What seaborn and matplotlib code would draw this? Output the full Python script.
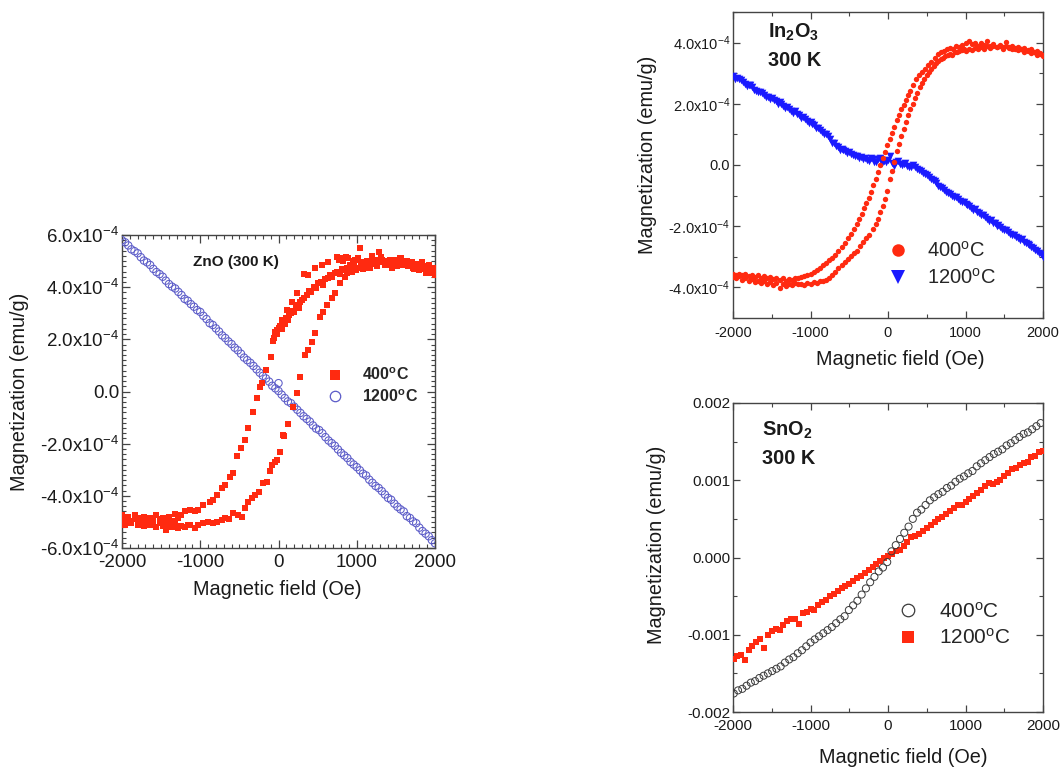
import numpy as np
import pandas as pd
import matplotlib
matplotlib.use("Agg")
import matplotlib.pyplot as plt
from matplotlib.ticker import MultipleLocator, FixedLocator, FixedFormatter
from matplotlib.lines import Line2D
import seaborn as sns

# ---------------- ZnO, 300 K  (magnetization in units of 1e-4 emu/g) ----------------
zno400_down_h = [2000, 1970, 1940, 1910, 1880, 1850, 1820, 1790, 1760, 1730,
                 1700, 1670, 1640, 1610, 1580, 1550, 1520, 1490, 1460, 1430,
                 1400, 1370, 1340, 1310, 1280, 1250, 1220, 1190, 1160, 1130,
                 1100, 1070, 1040, 1010, 980, 950, 920, 890, 860, 830,
                 800, 770, 744, 637, 552, 466, 381, 326, 233, 169,
                 105, 41, -23, -68, -102, -154, -209, -236, -279, -322,
                 -386, -428, -479, -535, -577, -620, -684, -726, -790, -833,
                 -875, -961, -1025, -1067, -1131, -1195,
                 -1240, -1280, -1320, -1360, -1400, -1440, -1480, -1520, -1560, -1600,
                 -1640, -1680, -1720, -1760, -1800, -1840, -1880, -1920, -1960, -2000]
zno400_down_m = [4.45, 4.7, 4.6, 4.8, 4.55, 4.75, 4.9, 4.65, 4.85, 4.7,
                 4.95, 4.8, 5.0, 4.85, 4.95, 5.1, 4.8, 5.0, 4.9, 5.05,
                 4.85, 5.0, 4.95, 5.15, 5.35, 5.05, 4.95, 5.2, 4.85, 5.0,
                 4.75, 4.95, 5.5, 5.1, 5.05, 5.0, 4.85, 5.1, 5.15, 5.0,
                 5.1, 5.05, 5.17, 4.97, 4.85, 4.72, 4.46, 4.49, 3.76, 3.44,
                 3.12, 2.74, 2.36, 1.92, 1.32, 0.83, 0.32, 0.18, -0.26, -0.77,
                 -1.41, -1.86, -2.18, -2.47, -3.13, -3.26, -3.58, -3.71, -3.97, -4.16,
                 -4.22, -4.35, -4.54, -4.6, -4.54, -4.6,
                 -4.75, -4.85, -4.7, -4.95, -4.8, -5.0, -4.85, -4.9, -4.75, -5.0,
                 -4.85, -4.9, -4.8, -5.0, -4.85, -4.75, -4.95, -4.8, -4.9, -4.75]

zno400_mid_h = [-60, -40, -20, 0, 20, 40, 60, 80, 100, 120,
                140, 160, 180, 200, 220, 240, 260, 280, 300, 330,
                360, 390, 420, 450, 480, 510, 540, 570, 600, 630,
                660, 690, 720, 750, 780, 810, 840, 870]
zno400_mid_m = [2.05, 2.3, 2.2, 2.45, 2.5, 2.4, 2.65, 2.6, 2.8, 2.75,
                2.95, 3.0, 3.1, 3.05, 3.25, 3.3, 3.2, 3.45, 3.5, 3.6,
                3.7, 3.85, 3.8, 4.0, 3.95, 4.15, 4.2, 4.1, 4.3, 4.35,
                4.45, 4.4, 4.55, 4.6, 4.5, 4.7, 4.65, 4.75]

zno400_up_h = [-2000, -1960, -1920, -1880, -1840, -1800, -1760, -1720, -1680, -1640,
               -1600, -1560, -1520, -1480, -1440, -1400, -1360, -1320, -1280, -1240,
               -1200, -1160,
               -1131, -1067, -1025, -961, -897, -840, -790, -726, -684, -630,
               -577, -520, -470, -428, -386, -340, -300, -249, -194, -151,
               -110, -87, -50, -23, 19, 62, 74, 126, 180, 233,
               275, 339, 381, 424, 466, 530, 573, 616, 680, 722,
               786, 850,
               880, 905, 935, 965, 995, 1025, 1055, 1085, 1115, 1145,
               1175, 1205, 1235, 1265, 1295, 1325, 1355, 1385, 1415, 1445,
               1475, 1505, 1535, 1565, 1595, 1625, 1655, 1685, 1715, 1745,
               1775, 1805, 1835, 1865, 1895, 1925, 1955, 1985]
zno400_up_m = [-5.0, -5.1, -4.95, -5.05, -4.9, -5.1, -4.95, -5.15, -5.0, -5.1,
               -4.95, -5.2, -5.05, -5.15, -5.3, -5.1, -5.2, -5.05, -5.25, -5.15,
               -5.2, -5.1,
               -5.12, -5.24, -5.12, -5.05, -4.99, -5.05, -4.99, -4.92, -4.86, -4.9,
               -4.67, -4.75, -4.8, -4.48, -4.22, -4.1, -3.97, -3.84, -3.52, -3.46,
               -3.05, -2.82, -2.7, -2.62, -2.31, -1.67, -1.69, -1.26, -0.6, -0.07,
               0.57, 1.4, 1.59, 1.91, 2.23, 2.87, 3.06, 3.31, 3.57, 3.76,
               4.15, 4.40,
               4.55, 4.7, 4.6, 4.8, 4.65, 4.75, 4.9, 4.7, 4.85, 4.95,
               4.75, 4.9, 5.0, 4.8, 4.95, 5.05, 4.85, 5.0, 4.9, 4.75,
               5.05, 4.95, 4.85, 5.1, 4.9, 5.0, 4.8, 4.95, 4.75, 4.9,
               4.85, 4.7, 4.95, 4.8, 4.65, 4.85, 4.55, 4.75]

zno1200_down_h = [2000, 1920, 1840, 1760, 1680, 1600, 1520, 1440, 1360, 1280,
                  1200, 1120, 1040, 960, 880, 800, 720, 640, 560, 480,
                  400, 320, 240, 160, 80, 0, -80, -160, -240, -320,
                  -400, -480, -560, -640, -720, -800, -880, -960, -1040, -1120,
                  -1200, -1280, -1360, -1440, -1520, -1600, -1680, -1760, -1840, -1920,
                  -2000]
zno1200_down_m = [-5.82, -5.55, -5.35, -5.05, -4.85, -4.6, -4.42, -4.15, -3.95, -3.7,
                  -3.5, -3.22, -3.02, -2.8, -2.55, -2.35, -2.08, -1.88, -1.6, -1.42,
                  -1.15, -0.95, -0.7, -0.45, -0.25, 0.02, 0.22, 0.5, 0.72, 0.98,
                  1.2, 1.45, 1.68, 1.92, 2.15, 2.42, 2.62, 2.9, 3.12, 3.35,
                  3.55, 3.82, 4.02, 4.25, 4.5, 4.7, 4.95, 5.15, 5.38, 5.6,
                  5.8]
zno1200_up_h = [-1960, -1880, -1800, -1720, -1640, -1560, -1480, -1400, -1320, -1240,
                -1160, -1080, -1000, -920, -840, -760, -680, -600, -520, -440,
                -360, -280, -200, -120, -40, 0, 40, 120, 200, 280, 360,
                440, 520, 600, 680, 760, 840, 920, 1000, 1080, 1160,
                1240, 1320, 1400, 1480, 1560, 1640, 1720, 1800, 1880, 1960]
zno1200_up_m = [5.72, 5.45, 5.3, 5.02, 4.85, 4.58, 4.4, 4.12, 3.95, 3.7,
                3.48, 3.25, 3.05, 2.78, 2.55, 2.3, 2.05, 1.82, 1.58, 1.3,
                1.1, 0.85, 0.6, 0.38, 0.12, 0.32, -0.12, -0.38, -0.58, -0.82, -1.05,
                -1.3, -1.48, -1.75, -1.98, -2.22, -2.45, -2.7, -2.9, -3.15, -3.38,
                -3.62, -3.82, -4.08, -4.3, -4.52, -4.78, -4.98, -5.22, -5.45, -5.7]

# ---------------- In2O3, 300 K  (units of 1e-4 emu/g) ----------------
in400_down_h = [2000, 1960, 1920, 1880, 1840, 1800, 1760, 1720, 1680, 1640,
                1600, 1560, 1520, 1480, 1440, 1400, 1360, 1320, 1280, 1240,
                1200, 1160, 1120, 1080, 1040, 1000,
                960, 920, 880, 840, 800, 760, 720, 680, 640, 600,
                560, 520, 480, 440, 400, 360, 320,
                290, 260, 230, 200, 170, 140, 110, 80, 50, 20,
                -10, -40, -70, -100, -130, -160, -190, -220, -250, -280,
                -310, -340, -370, -400,
                -440, -480, -520, -560, -600, -640, -680, -720, -760, -800,
                -840, -880, -920, -960, -1000, -1040, -1080, -1120, -1160, -1200,
                -1240, -1280, -1320, -1360, -1400, -1440, -1480, -1520, -1560, -1600,
                -1640, -1680, -1720, -1760, -1800, -1840, -1880, -1920, -1960, -2000]
in400_down_m = [3.55, 3.62, 3.58, 3.68, 3.65, 3.72, 3.7, 3.78, 3.75, 3.82,
                3.78, 3.85, 4.02, 3.8, 3.9, 3.85, 3.95, 3.88, 4.05, 3.92,
                3.98, 3.9, 4.0, 3.95, 4.05, 3.98,
                3.92, 3.85, 3.88, 3.8, 3.82, 3.78, 3.72, 3.7, 3.62, 3.5,
                3.38, 3.28, 3.15, 3.05, 2.95, 2.82, 2.6,
                2.42, 2.3, 2.12, 1.95, 1.82, 1.65, 1.48, 1.25, 1.05, 0.85,
                0.65, 0.42, 0.22, 0.0, -0.22, -0.45, -0.65, -0.88, -1.08, -1.25,
                -1.42, -1.6, -1.78, -1.92,
                -2.08, -2.25, -2.4, -2.55, -2.68, -2.8, -2.95, -3.05, -3.12, -3.2,
                -3.28, -3.38, -3.42, -3.5, -3.55, -3.58, -3.62, -3.65, -3.7, -3.68,
                -3.75, -3.72, -3.78, -3.7, -3.75, -3.68, -3.72, -3.65, -3.7, -3.62,
                -3.68, -3.6, -3.65, -3.58, -3.62, -3.55, -3.6, -3.55, -3.58, -3.55]

in400_up_h = [-2000, -1960, -1920, -1880, -1840, -1800, -1760, -1720, -1680, -1640,
              -1600, -1560, -1520, -1480, -1440, -1400, -1360, -1320, -1280, -1240,
              -1200, -1160, -1120, -1080, -1040, -1000, -960, -920, -880, -840,
              -800, -760,
              -720, -680, -640, -600, -560, -520, -480, -440, -400, -360,
              -320, -280, -240, -200, -160,
              -130, -100, -70, -40, -10, 20, 50, 80, 110, 140,
              170, 200, 230, 260, 290, 320, 350, 380, 410, 440,
              470, 500, 530, 560, 590, 620, 650, 680, 710, 740,
              770, 800, 830, 860, 890, 920, 950, 980,
              1010, 1040, 1080, 1120, 1160, 1200, 1240, 1280, 1320, 1360,
              1400, 1440, 1480, 1520, 1560, 1600, 1640, 1680, 1720, 1760,
              1800, 1840, 1880, 1920, 1960, 2000]
in400_up_m = [-3.65, -3.7, -3.62, -3.75, -3.7, -3.8, -3.72, -3.82, -3.78, -3.85,
              -3.8, -3.88, -3.82, -3.92, -3.85, -4.02, -3.9, -3.95, -3.88, -3.92,
              -3.85, -3.9, -3.88, -3.93, -3.85, -3.88, -3.82, -3.86, -3.8, -3.78,
              -3.75, -3.7,
              -3.6, -3.5, -3.38, -3.28, -3.18, -3.08, -2.98, -2.88, -2.8, -2.65,
              -2.52, -2.4, -2.28, -2.1, -1.92,
              -1.78, -1.55, -1.35, -1.1, -0.85, -0.45, -0.2, 0.1, 0.45, 0.7,
              0.95, 1.18, 1.4, 1.62, 1.82, 1.98, 2.18, 2.35, 2.55, 2.68,
              2.82, 2.95, 3.05, 3.15, 3.25, 3.32, 3.4, 3.45, 3.5, 3.55,
              3.58, 3.62, 3.6, 3.68, 3.7, 3.72, 3.75, 3.78,
              3.72, 3.8, 3.75, 3.82, 3.78, 3.85, 3.8, 3.88, 3.82, 3.9,
              3.85, 3.92, 3.86, 3.9, 3.82, 3.88, 3.8, 3.85, 3.78, 3.82,
              3.75, 3.78, 3.7, 3.72, 3.65, 3.6]

in1200_a_h = [-2000, -1950, -1900, -1850, -1800, -1750, -1700, -1650, -1600, -1550,
              -1500, -1450, -1400, -1350, -1300, -1250, -1200, -1150, -1100, -1050,
              -1000, -950, -900, -850, -800, -750, -700, -650, -600, -550,
              -500, -450, -400, -350, -300, -250, -200, -150, -100, -50,
              0, 50, 100, 150, 200, 250, 300, 350, 400, 450,
              500, 550, 600, 650, 700, 750, 800, 850, 900, 950,
              1000, 1050, 1100, 1150, 1200, 1250, 1300, 1350, 1400, 1450,
              1500, 1550, 1600, 1650, 1700, 1750, 1800, 1850, 1900, 1950,
              2000]
in1200_a_m = [2.92, 2.85, 2.78, 2.66, 2.62, 2.55, 2.42, 2.4, 2.3, 2.22,
              2.18, 2.08, 2.05, 1.92, 1.88, 1.78, 1.75, 1.62, 1.58, 1.45,
              1.42, 1.3, 1.22, 1.08, 1.0, 0.85, 0.72, 0.58, 0.52, 0.45,
              0.42, 0.32, 0.3, 0.25, 0.22, 0.12, 0.18, 0.1, 0.22, 0.12,
              0.15, 0.05, 0.1, 0.02, 0.04, -0.02, -0.05, -0.08, -0.15, -0.25,
              -0.32, -0.45, -0.52, -0.68, -0.75, -0.88, -0.95, -1.05, -1.1, -1.22,
              -1.28, -1.35, -1.48, -1.52, -1.65, -1.7, -1.82, -1.88, -1.98, -2.02,
              -2.12, -2.2, -2.28, -2.35, -2.45, -2.5, -2.58, -2.68, -2.78, -2.88,
              -3.02]
in1200_b_h = [-1975, -1925, -1875, -1825, -1775, -1725, -1675, -1625, -1575, -1525,
              -1475, -1425, -1375, -1325, -1275, -1225, -1175, -1125, -1075, -1025,
              -975, -925, -875, -825, -775, -725, -675, -625, -575, -525,
              -475, -425, -375, -325, -275, -225, -175, -125, -75, -25,
              25, 75, 125, 175, 225, 275, 325, 375, 425, 475,
              525, 575, 625, 675, 725, 775, 825, 875, 925, 975,
              1025, 1075, 1125, 1175, 1225, 1275, 1325, 1375, 1425, 1475,
              1525, 1575, 1625, 1675, 1725, 1775, 1825, 1875, 1925, 1975]
in1200_b_m = [2.82, 2.8, 2.7, 2.58, 2.6, 2.45, 2.38, 2.35, 2.22, 2.15,
              2.12, 2.0, 1.98, 1.85, 1.82, 1.7, 1.68, 1.55, 1.5, 1.38,
              1.35, 1.22, 1.15, 1.02, 0.95, 0.72, 0.62, 0.5, 0.48, 0.38,
              0.35, 0.3, 0.22, 0.2, 0.15, 0.22, 0.1, 0.18, 0.05, 0.1,
              0.3, -0.02, 0.12, 0.0, 0.08, -0.05, 0.0, -0.12, -0.18, -0.3,
              -0.38, -0.5, -0.6, -0.72, -0.82, -0.9, -1.02, -1.05, -1.18, -1.2,
              -1.32, -1.4, -1.45, -1.58, -1.62, -1.75, -1.8, -1.9, -1.95, -2.08,
              -2.12, -2.25, -2.28, -2.38, -2.42, -2.55, -2.6, -2.72, -2.8, -2.9]

# ---------------- SnO2, 300 K  (units of 1e-3 emu/g) ----------------
sn400_h = [-1990, -1935, -1880, -1825, -1770, -1715, -1660, -1605, -1550, -1495,
           -1440, -1385, -1330, -1275, -1220, -1165, -1110, -1055, -1000, -945,
           -890, -835, -780, -725, -670, -615, -560, -505, -450, -395,
           -340, -285, -230, -175, -120, -65, -10, 45, 100, 155,
           210, 265, 320, 375, 430, 485, 540, 595, 650, 705,
           760, 815, 870, 925, 980, 1035, 1090, 1145, 1200, 1255,
           1310, 1365, 1420, 1475, 1530, 1585, 1640, 1695, 1750, 1805,
           1860, 1915, 1970]
sn400_m = [-1.76, -1.72, -1.7, -1.66, -1.62, -1.6, -1.56, -1.53, -1.5, -1.47,
           -1.44, -1.41, -1.36, -1.32, -1.29, -1.24, -1.2, -1.15, -1.1, -1.06,
           -1.02, -0.98, -0.94, -0.9, -0.85, -0.8, -0.76, -0.68, -0.62, -0.56,
           -0.48, -0.4, -0.32, -0.25, -0.18, -0.13, -0.06, 0.08, 0.16, 0.24,
           0.32, 0.4, 0.5, 0.58, 0.62, 0.68, 0.74, 0.78, 0.82, 0.85,
           0.9, 0.93, 0.98, 1.02, 1.05, 1.09, 1.12, 1.18, 1.22, 1.26,
           1.3, 1.34, 1.37, 1.4, 1.45, 1.48, 1.52, 1.56, 1.6, 1.62,
           1.66, 1.7, 1.74]

sn1200_h = [-1990, -1950, -1900, -1850, -1800, -1750, -1700, -1650, -1600, -1550,
            -1500, -1450, -1400, -1350, -1300, -1250, -1200, -1150, -1100, -1050,
            -1000, -950, -900, -850, -800, -750, -700, -650, -600, -550,
            -500, -450, -400, -350, -300, -250, -200, -150, -100, -50,
            0, 50, 100, 150, 200, 250, 300, 350, 400, 450,
            500, 550, 600, 650, 700, 750, 800, 850, 900, 950,
            1000, 1050, 1100, 1150, 1200, 1250, 1300, 1350, 1400, 1450,
            1500, 1550, 1600, 1650, 1700, 1750, 1800, 1850, 1900, 1950,
            2000]
sn1200_m = [-1.32, -1.28, -1.26, -1.33, -1.2, -1.15, -1.1, -1.05, -1.17, -1.0,
            -0.95, -0.92, -0.94, -0.88, -0.82, -0.8, -0.8, -0.86, -0.72, -0.7,
            -0.67, -0.68, -0.62, -0.58, -0.55, -0.5, -0.47, -0.44, -0.4, -0.37,
            -0.34, -0.3, -0.26, -0.24, -0.2, -0.16, -0.12, -0.08, -0.04, 0.0,
            0.02, 0.05, 0.08, 0.1, 0.15, 0.2, 0.26, 0.28, 0.3, 0.34,
            0.38, 0.42, 0.46, 0.5, 0.53, 0.56, 0.6, 0.64, 0.68, 0.68,
            0.72, 0.76, 0.8, 0.83, 0.88, 0.92, 0.96, 0.95, 0.98, 1.0,
            1.06, 1.1, 1.14, 1.16, 1.2, 1.22, 1.24, 1.3, 1.32, 1.36,
            1.38]

# ---------------- axis ticks and labels ----------------
field_ticks = [-2000, -1000, 0, 1000, 2000]
field_ticklabels = ["-2000", "-1000", "0", "1000", "2000"]
zno_yticks = [-6e-4, -4e-4, -2e-4, 0.0, 2e-4, 4e-4, 6e-4]
zno_yticklabels = [r"-6.0x10$^{-4}$", r"-4.0x10$^{-4}$", r"-2.0x10$^{-4}$", "0.0",
                   r"2.0x10$^{-4}$", r"4.0x10$^{-4}$", r"6.0x10$^{-4}$"]
in_yticks = [-4e-4, -2e-4, 0.0, 2e-4, 4e-4]
in_yticklabels = [r"-4.0x10$^{-4}$", r"-2.0x10$^{-4}$", "0.0", r"2.0x10$^{-4}$", r"4.0x10$^{-4}$"]
sn_yticks = [-0.002, -0.001, 0.0, 0.001, 0.002]
sn_yticklabels = ["-0.002", "-0.001", "0.000", "0.001", "0.002"]

xlabel = "Magnetic field (Oe)"
ylabel = "Magnetization (emu/g)"
deg400 = r"400$^{\rm o}$C"
deg1200 = r"1200$^{\rm o}$C"

RED = "#ff2a10"
ZNO_BLUE = "#5b5bc8"
IN_BLUE = "#1a1aff"
SN_GREY = "#3a3a3a"

sns.set_theme(style="ticks")
plt.rcParams["font.family"] = ["Liberation Sans", "DejaVu Sans"]
plt.rcParams["mathtext.fontset"] = "custom"
plt.rcParams["mathtext.rm"] = "Liberation Sans"
plt.rcParams["mathtext.it"] = "Liberation Sans:italic"
plt.rcParams["mathtext.bf"] = "Liberation Sans:bold"
plt.rcParams["axes.unicode_minus"] = False

fig = plt.figure(figsize=(10.62, 7.69), dpi=100)
W, H = 1062.0, 769.0


def axes_px(x0, y0, x1, y1):
    return fig.add_axes([x0 / W, 1 - y1 / H, (x1 - x0) / W, (y1 - y0) / H])


ax_zno = axes_px(122, 235, 435, 548)
ax_in = axes_px(733, 12, 1043, 318)
ax_sn = axes_px(733, 403, 1043, 712)


def draw(ax, h, m, scale, marker, s, fc, ec, lw):
    df = pd.DataFrame({"field": h, "mag": np.asarray(m, dtype=float) * scale})
    sns.scatterplot(data=df, x="field", y="mag", ax=ax, marker=marker, s=s,
                    facecolor=fc, edgecolor=ec, linewidth=lw, legend=False, zorder=3)


# ZnO
draw(ax_zno, zno1200_down_h, zno1200_down_m, 1e-4, "o", 28, "none", ZNO_BLUE, 0.75)
draw(ax_zno, zno1200_up_h, zno1200_up_m, 1e-4, "o", 28, "none", ZNO_BLUE, 0.75)
draw(ax_zno, zno400_down_h, zno400_down_m, 1e-4, "s", 15, RED, RED, 0)
draw(ax_zno, zno400_mid_h, zno400_mid_m, 1e-4, "s", 15, RED, RED, 0)
draw(ax_zno, zno400_up_h, zno400_up_m, 1e-4, "s", 15, RED, RED, 0)

# In2O3
draw(ax_in, in1200_a_h, in1200_a_m, 1e-4, "v", 30, IN_BLUE, IN_BLUE, 0)
draw(ax_in, in1200_b_h, in1200_b_m, 1e-4, "v", 30, IN_BLUE, IN_BLUE, 0)
draw(ax_in, in400_down_h, in400_down_m, 1e-4, "o", 15, RED, RED, 0)
draw(ax_in, in400_up_h, in400_up_m, 1e-4, "o", 15, RED, RED, 0)

# SnO2
draw(ax_sn, sn1200_h, sn1200_m, 1e-3, "s", 22, RED, RED, 0)
draw(ax_sn, sn400_h, sn400_m, 1e-3, "o", 26, "none", SN_GREY, 0.7)


def style_axes(ax, ylim, yticks, yticklabels, xminor, yminor, tick_fs, maj_len, min_len, xpad):
    ax.set_xlim(-2000, 2000)
    ax.set_ylim(*ylim)
    ax.xaxis.set_major_locator(FixedLocator(field_ticks))
    ax.xaxis.set_major_formatter(FixedFormatter(field_ticklabels))
    ax.yaxis.set_major_locator(FixedLocator(yticks))
    ax.yaxis.set_major_formatter(FixedFormatter(yticklabels))
    ax.xaxis.set_minor_locator(MultipleLocator(xminor))
    ax.yaxis.set_minor_locator(MultipleLocator(yminor))
    ax.tick_params(which="both", direction="in", top=True, right=True,
                   color="#444444", width=0.9)
    ax.tick_params(which="major", length=maj_len, labelsize=tick_fs,
                   labelcolor="#1a1a1a")
    ax.tick_params(axis="y", which="major", pad=2)
    ax.tick_params(axis="x", which="major", pad=xpad)
    ax.tick_params(which="minor", length=min_len, width=0.8)
    for sp in ax.spines.values():
        sp.set_visible(True)
        sp.set_color("#444444")
        sp.set_linewidth(1.0)
    ax.set_xlabel(xlabel, fontsize=14.3, color="#1a1a1a")
    ax.set_ylabel(ylabel, fontsize=14.3, color="#1a1a1a")
    ax.xaxis.label.set_va("center")
    ax.yaxis.label.set_va("center")


style_axes(ax_zno, (-6e-4, 6e-4), zno_yticks, zno_yticklabels, 100, 2e-5, 13.5, 6, 3, 4)
style_axes(ax_in, (-5e-4, 5e-4), in_yticks, in_yticklabels, 500, 1e-4, 10.5, 5, 3, 6)
style_axes(ax_sn, (-0.002, 0.002), sn_yticks, sn_yticklabels, 500, 0.0005, 11, 5, 3, 5)

ax_zno.xaxis.set_label_coords(0.495, -0.134)
ax_zno.yaxis.set_label_coords(-0.326, 0.50)
ax_in.xaxis.set_label_coords(0.54, -0.137)
ax_in.yaxis.set_label_coords(-0.277, 0.533)
ax_sn.xaxis.set_label_coords(0.548, -0.146)
ax_sn.yaxis.set_label_coords(-0.248, 0.54)

# sample annotations
ax_zno.text(0.227, 0.914, "ZnO (300 K)", transform=ax_zno.transAxes, fontsize=11,
            fontweight="bold", va="center", ha="left", color="#1a1a1a")
ax_in.text(0.113, 0.935, r"In$_{\bf 2}$O$_{\bf 3}$", transform=ax_in.transAxes, fontsize=14.3,
           fontweight="bold", va="center", ha="left", color="#1a1a1a")
ax_in.text(0.113, 0.843, "300 K", transform=ax_in.transAxes, fontsize=14.3,
           fontweight="bold", va="center", ha="left", color="#1a1a1a")
ax_sn.text(0.094, 0.913, r"SnO$_{\bf 2}$", transform=ax_sn.transAxes, fontsize=14.3,
           fontweight="bold", va="center", ha="left", color="#1a1a1a")
ax_sn.text(0.094, 0.822, "300 K", transform=ax_sn.transAxes, fontsize=14.3,
           fontweight="bold", va="center", ha="left", color="#1a1a1a")

# legends
zno_handles = [
    Line2D([], [], ls="none", marker="s", ms=6.5, mfc=RED, mec=RED, mew=0),
    Line2D([], [], ls="none", marker="o", ms=7.5, mfc="none", mec=ZNO_BLUE, mew=0.9),
]
ax_zno.legend(zno_handles, [r"400$^{\bf o}$C", r"1200$^{\bf o}$C"], loc="center left",
              bbox_to_anchor=(0.655, 0.518), frameon=False, handlelength=1.0,
              handletextpad=1.2, labelspacing=0.3, borderpad=0, borderaxespad=0,
              prop={"size": 11.5, "weight": "bold"})

in_handles = [
    Line2D([], [], ls="none", marker="o", ms=9, mfc=RED, mec=RED, mew=0),
    Line2D([], [], ls="none", marker="v", ms=10, mfc=IN_BLUE, mec=IN_BLUE, mew=0),
]
ax_in.legend(in_handles, [deg400, deg1200], loc="center left",
             bbox_to_anchor=(0.5, 0.176), frameon=False, handlelength=1.0,
             handletextpad=0.95, labelspacing=0.35, borderpad=0, borderaxespad=0,
             prop={"size": 14.5})

sn_handles = [
    Line2D([], [], ls="none", marker="o", ms=9, mfc="none", mec=SN_GREY, mew=0.9),
    Line2D([], [], ls="none", marker="s", ms=8, mfc=RED, mec=RED, mew=0),
]
ax_sn.legend(sn_handles, [deg400, deg1200], loc="center left",
             bbox_to_anchor=(0.53, 0.282), frameon=False, handlelength=1.0,
             handletextpad=1.0, labelspacing=0.3, borderpad=0, borderaxespad=0,
             prop={"size": 15})

fig.savefig("out.png", dpi=100, facecolor="white")
